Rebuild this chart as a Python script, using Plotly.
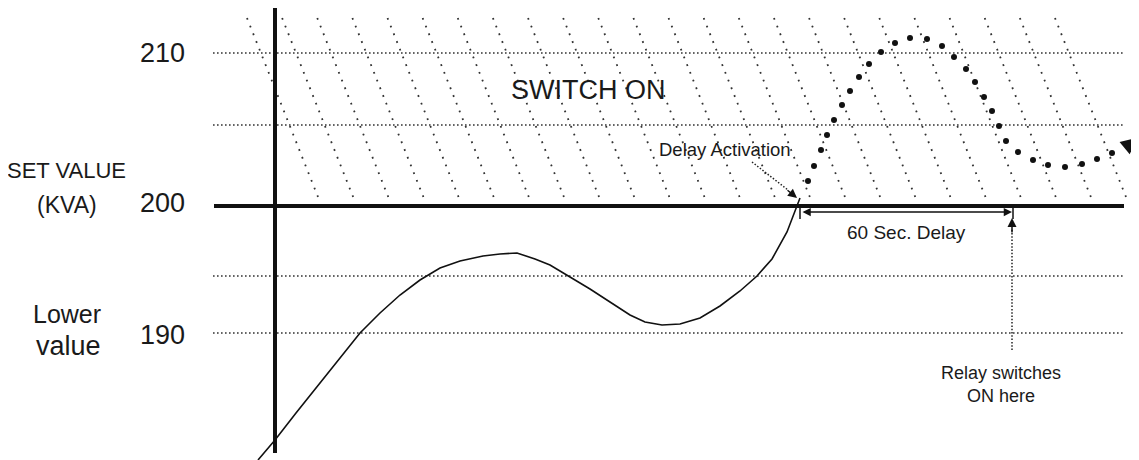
import plotly.graph_objects as go

# ---- data (chart units: horizontal = time position, vertical = drawn level position) ----
grid_levels = [53, 125, 276, 333]          # dotted levels: 210, 205, 195, 190
set_level = 206                             # SET VALUE 200
axis_x = 275
level_labels = ["210", "200", "190"]
level_label_pos = [53, 203, 335]

# measured value (solid curve) before set value reached
solid_x = [258, 275, 296, 317, 338, 360, 380, 400, 420, 440, 460, 483, 500, 517, 535, 550, 570, 590, 610,
           630, 645, 662, 680, 700, 720, 740, 757, 772, 787, 800]
solid_y = [460, 440, 413, 387, 360, 333, 313, 295, 280, 268, 261, 256, 254, 253, 259, 265, 277, 289, 302,
           315, 322, 325, 324, 318, 306, 291, 276, 259, 232, 198]

# measured value (dotted) after set value exceeded
dots_x = [808, 814, 821, 827, 834, 842, 850, 859, 869, 881, 895, 910, 927, 942, 954, 966, 975, 984,
          992, 999, 1006, 1018, 1033, 1048, 1065, 1082, 1097, 1112, 1127]
dots_y = [181, 166, 150, 135, 120, 105, 91, 77, 64, 52, 43, 38, 39, 46, 57, 69, 82, 97,
          111, 126, 141, 152, 160, 165, 167, 164, 159, 153, 144]

# hatching of SWITCH ON zone
hatch_top_x = [247 + 35.13 * k for k in range(24)]
hatch_top, hatch_bottom, hatch_dx = 18, 197, 71

delay_start, delay_end = 800, 1013

# page body has an 8px margin: shift ranges so chart units line up with the window
PAD = 8
W, H = 1139, 460
FONT = "Liberation Sans, Arial, sans-serif"
INK = "#1a1a1a"

fig = go.Figure()

# hatching
hx, hy = [], []
for x0 in hatch_top_x:
    hx += [x0, x0 + hatch_dx, None]
    hy += [hatch_top, hatch_bottom, None]
fig.add_trace(go.Scatter(x=hx, y=hy, mode="lines",
                         line=dict(color="#333", width=1.8, dash="1.8px,6.5px"), hoverinfo="skip"))

# dotted grid levels
gx, gy = [], []
for g in grid_levels:
    gx += [213, 1123, None]
    gy += [g, g, None]
fig.add_trace(go.Scatter(x=gx, y=gy, mode="lines",
                         line=dict(color="#333", width=1.3, dash="1.6px,2.4px"), hoverinfo="skip"))

# set value line and vertical axis
fig.add_trace(go.Scatter(x=[214, 1124], y=[set_level, set_level], mode="lines",
                         line=dict(color="#111", width=4), hoverinfo="skip"))
fig.add_trace(go.Scatter(x=[axis_x, axis_x], y=[8, 453], mode="lines",
                         line=dict(color="#111", width=4), hoverinfo="skip"))

# solid curve
fig.add_trace(go.Scatter(x=solid_x, y=solid_y, mode="lines",
                         line=dict(color="#111", width=1.6, shape="linear"), hoverinfo="skip"))

# dotted curve
fig.add_trace(go.Scatter(x=dots_x, y=dots_y, mode="markers",
                         marker=dict(color="#111", size=6), hoverinfo="skip"))

# delay activation dotted arrow shaft
fig.add_trace(go.Scatter(x=[752, 788], y=[162, 190], mode="lines",
                         line=dict(color="#222", width=1.5, dash="1.5px,1.8px"), hoverinfo="skip"))
# relay dotted arrow shaft
fig.add_trace(go.Scatter(x=[delay_end - 1, delay_end - 1], y=[350, 228], mode="lines",
                         line=dict(color="#222", width=1.5, dash="1.5px,1.8px"), hoverinfo="skip"))
# delay end bars
fig.add_trace(go.Scatter(x=[delay_start, delay_start, None, delay_end, delay_end],
                         y=[206, 219, None, 206, 219], mode="lines",
                         line=dict(color="#111", width=1.5), hoverinfo="skip"))

ann = []
def txt(x, y, s, size, xanchor="center", yanchor="middle"):
    ann.append(dict(x=x, y=y, xref="x", yref="y", text=s, showarrow=False,
                    font=dict(family=FONT, size=size, color=INK),
                    xanchor=xanchor, yanchor=yanchor))

for lab, yy in zip(level_labels, level_label_pos):
    txt(162, yy, lab, 27)
txt(66, 170, "SET VALUE", 22)
txt(67, 205, "(KVA)", 23)
txt(67, 314, "Lower", 25)
txt(68, 346, "value", 27)
txt(588, 90, "SWITCH ON", 27)
txt(793, 162, "Delay Activation", 18.5, xanchor="right", yanchor="bottom")
txt(906, 232, "60 Sec. Delay", 19)
txt(1001, 373, "Relay switches", 18)
txt(1001, 396, "ON here", 18)

def arrow(x, y, ax, ay, **kw):
    d = dict(x=x, y=y, ax=ax, ay=ay, xref="x", yref="y", axref="x", ayref="y",
             text="", showarrow=True, arrowcolor="#111", arrowwidth=1.5, arrowhead=2, arrowsize=1.2)
    d.update(kw)
    ann.append(d)

arrow(797, 198, 786, 189)
arrow(delay_end - 1, 212, delay_start + 1, 212, arrowside="end+start", startarrowhead=2,
      startarrowsize=1.1, arrowsize=1.1)
arrow(delay_end - 1, 218, delay_end - 1, 234)
arrow(1137, 138, 1126, 147, arrowwidth=2, arrowhead=2, arrowsize=1.6)

fig.update_layout(
    width=W - PAD, height=H - PAD, margin=dict(l=0, r=0, t=0, b=0),
    paper_bgcolor="white", plot_bgcolor="white", showlegend=False,
    xaxis=dict(range=[PAD, W], visible=False, fixedrange=True),
    yaxis=dict(range=[H, PAD], visible=False, fixedrange=True),
    annotations=ann,
)
fig.write_html("out.html")
